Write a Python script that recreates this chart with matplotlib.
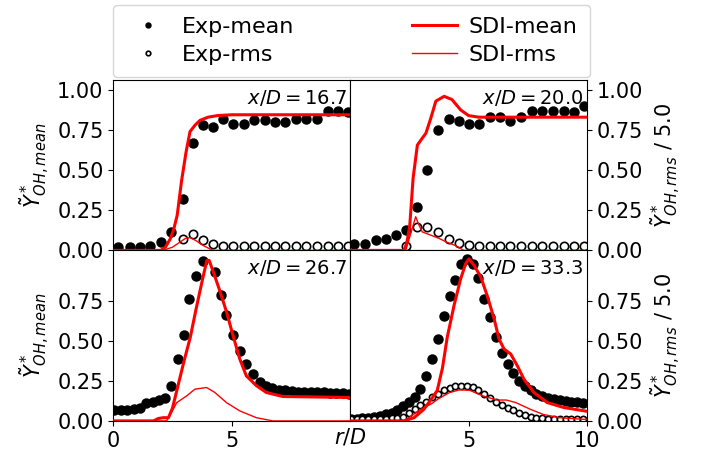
import matplotlib
matplotlib.use("Agg")
import matplotlib.pyplot as plt

# measured OH profiles, x/D = 16.7
r_exp_167 = [0.22, 0.70, 1.13, 1.57, 2.00, 2.42, 2.95, 3.37, 3.80, 4.22, 4.64, 5.06,
             5.50, 5.93, 6.39, 6.81, 7.27, 7.72, 8.14, 8.59, 9.05, 9.47, 9.90]
mean_exp_167 = [0.02, 0.02, 0.02, 0.03, 0.05, 0.115, 0.32, 0.667, 0.78, 0.77, 0.817, 0.79,
                0.79, 0.81, 0.81, 0.80, 0.80, 0.82, 0.82, 0.82, 0.87, 0.87, 0.86]
r_rms_167 = r_exp_167[6:]
rms_exp_167 = [0.073, 0.104, 0.0625, 0.042, 0.03, 0.03, 0.03, 0.03, 0.03, 0.03, 0.03,
               0.03, 0.03, 0.03, 0.03, 0.03, 0.03]

# x/D = 20.0
r_exp_200 = [0.17, 0.62, 1.08, 1.50, 1.93, 2.35, 2.84, 3.26, 3.71, 4.17, 4.59, 5.01,
             5.44, 5.89, 6.35, 6.77, 7.22, 7.69, 8.11, 8.56, 9.02, 9.44, 9.86]
mean_exp_200 = [0.04, 0.04, 0.0625, 0.073, 0.094, 0.13, 0.27, 0.50, 0.75, 0.82, 0.806, 0.79,
                0.79, 0.83, 0.83, 0.806, 0.833, 0.87, 0.87, 0.87, 0.87, 0.86, 0.90]
r_rms_200 = r_exp_200[5:]
rms_exp_200 = [0.03, 0.146, 0.146, 0.115, 0.073, 0.045, 0.035, 0.03, 0.03, 0.03, 0.03,
               0.03, 0.03, 0.03, 0.03, 0.03, 0.03, 0.03]

# x/D = 26.7 (no rms data)
r_exp_267 = [0.05, 0.32, 0.59, 0.86, 1.13, 1.40, 1.67, 1.94, 2.18, 2.44, 2.72, 3.00,
             3.21, 3.49, 3.77, 4.29, 4.54, 4.78, 5.06, 5.36, 5.62, 5.90, 6.18, 6.45,
             6.72, 6.99, 7.26, 7.53, 7.80, 8.07, 8.34, 8.61, 8.88, 9.15, 9.42, 9.69, 9.96]
mean_exp_267 = [0.07, 0.07, 0.07, 0.075, 0.08, 0.11, 0.115, 0.13, 0.145, 0.22, 0.386, 0.535,
                0.76, 0.90, 0.996, 0.927, 0.786, 0.66, 0.535, 0.4375, 0.354, 0.29, 0.24, 0.22,
                0.205, 0.195, 0.19, 0.185, 0.18, 0.178, 0.178, 0.177, 0.177, 0.176, 0.175,
                0.173, 0.17]

# x/D = 33.3
r_exp_333 = [0.03, 0.28, 0.52, 0.77, 1.01, 1.26, 1.50, 1.75, 1.99, 2.24, 2.48, 2.73,
             2.97, 3.22, 3.46, 3.71, 3.95, 4.20, 4.44, 4.69, 4.93, 5.18, 5.42, 5.67,
             5.91, 6.16, 6.40, 6.65, 6.89, 7.14, 7.38, 7.63, 7.87, 8.12, 8.36, 8.61,
             8.85, 9.10, 9.34, 9.59, 9.83]
mean_exp_333 = [0.01, 0.012, 0.015, 0.02, 0.025, 0.03, 0.04, 0.05, 0.065, 0.09, 0.115, 0.146,
                0.198, 0.28, 0.386, 0.51, 0.656, 0.78, 0.88, 0.98, 1.01, 0.98, 0.89, 0.76,
                0.65, 0.52, 0.42, 0.354, 0.30, 0.25, 0.215, 0.19, 0.17, 0.155, 0.145, 0.138,
                0.13, 0.125, 0.12, 0.117, 0.114]
rms_exp_333 = [0.01, 0.01, 0.01, 0.01, 0.012, 0.012, 0.014, 0.016, 0.02, 0.025, 0.052, 0.073,
               0.10, 0.12, 0.146, 0.17, 0.19, 0.205, 0.215, 0.22, 0.218, 0.21, 0.19, 0.165,
               0.14, 0.12, 0.10, 0.08, 0.065, 0.05, 0.037, 0.027, 0.02, 0.015, 0.012, 0.01,
               0.01, 0.01, 0.01, 0.01, 0.01]

# SDI model profiles
r_sdi_mean_167 = [0, 2.0, 2.2, 2.4, 2.55, 2.7, 2.88, 3.07, 3.24, 3.45, 3.66, 4.0, 4.4, 5.0, 10]
sdi_mean_167 = [0, 0, 0.02, 0.07, 0.13, 0.22, 0.43, 0.61, 0.74, 0.78, 0.81, 0.83, 0.84, 0.845, 0.845]
r_sdi_rms_167 = [0, 2.1, 2.5, 2.8, 3.05, 3.25, 3.5, 3.8, 4.2, 10]
sdi_rms_167 = [0, 0, 0.02, 0.05, 0.075, 0.08, 0.06, 0.03, 0, 0]

r_sdi_mean_200 = [0, 2.28, 2.4, 2.52, 2.66, 2.84, 3.05, 3.2, 3.4, 3.62, 3.97, 4.3, 4.67, 5.0,
                  5.43, 6.0, 10]
sdi_mean_200 = [0, 0, 0.05, 0.156, 0.45, 0.656, 0.70, 0.73, 0.82, 0.93, 0.96, 0.94, 0.875, 0.84,
                0.83, 0.83, 0.83]
r_sdi_rms_200 = [0, 2.35, 2.55, 2.77, 2.9, 3.05, 3.4, 3.75, 4.1, 4.45, 4.8, 10]
sdi_rms_200 = [0, 0, 0.1, 0.21, 0.16, 0.115, 0.095, 0.075, 0.05, 0.03, 0, 0]

r_sdi_mean_267 = [0, 1.7, 1.9, 2.1, 2.33, 2.5, 2.7, 3.0, 3.25, 3.5, 3.75, 3.95, 4.05, 4.22,
                  4.5, 4.78, 5.06, 5.34, 5.62, 6.04, 6.46, 7.16, 10]
sdi_mean_267 = [0, 0, 0.015, 0.02, 0.02, 0.08, 0.2, 0.38, 0.52, 0.7, 0.87, 1.0, 1.0, 0.93,
                0.81, 0.68, 0.53, 0.386, 0.28, 0.22, 0.177, 0.152, 0.146]
r_sdi_rms_267 = [0, 2.25, 2.45, 2.68, 3.1, 3.45, 3.94, 4.29, 4.78, 5.34, 6.04, 6.74, 10]
sdi_rms_267 = [0, 0, 0.05, 0.114, 0.156, 0.198, 0.208, 0.177, 0.114, 0.0625, 0.02, 0, 0]

r_sdi_mean_333 = [0, 2.28, 2.7, 3.1, 3.5, 3.68, 3.9, 4.1, 4.39, 4.67, 4.88, 5.02, 5.23, 5.51,
                  5.79, 6.08, 6.29, 6.5, 6.78, 7.06, 7.34, 7.76, 8.33, 9.03, 10]
sdi_mean_333 = [0, 0, 0.02, 0.07, 0.15, 0.19, 0.33, 0.52, 0.72, 0.886, 0.98, 1.01, 0.97, 0.90,
                0.78, 0.636, 0.51, 0.448, 0.417, 0.344, 0.26, 0.177, 0.114, 0.083, 0.06]
r_sdi_rms_333 = [0, 2.28, 3.0, 3.47, 3.7, 4.2, 4.64, 5.06, 5.6, 6.2, 6.6, 7.0, 7.6, 8.16, 8.85,
                 9.85, 10]
sdi_rms_333 = [0, 0, 0.073, 0.11, 0.135, 0.177, 0.194, 0.19, 0.156, 0.13, 0.13, 0.114, 0.073,
               0.04, 0.02, 0.01, 0.01]

stations = ["16.7", "20.0", "26.7", "33.3"]

panels = [
    (r_exp_167, mean_exp_167, r_rms_167, rms_exp_167,
     r_sdi_mean_167, sdi_mean_167, r_sdi_rms_167, sdi_rms_167),
    (r_exp_200, mean_exp_200, r_rms_200, rms_exp_200,
     r_sdi_mean_200, sdi_mean_200, r_sdi_rms_200, sdi_rms_200),
    (r_exp_267, mean_exp_267, None, None,
     r_sdi_mean_267, sdi_mean_267, r_sdi_rms_267, sdi_rms_267),
    (r_exp_333, mean_exp_333, r_exp_333, rms_exp_333,
     r_sdi_mean_333, sdi_mean_333, r_sdi_rms_333, sdi_rms_333),
]

fs = 15
fig, axes = plt.subplots(2, 2, figsize=(7.08, 4.59), dpi=100)
fig.subplots_adjust(left=0.16, right=0.829, bottom=0.083, top=0.826, wspace=0, hspace=0)

for i, ax in enumerate(axes.flat):
    r_e, m_e, r_r, s_r, r_sm, sm, r_sr, sr = panels[i]
    row, col = divmod(i, 2)
    open_ms = 4.5 if i == 3 else 6
    h1, = ax.plot(r_e, m_e, "o", color="black", ms=6.5, zorder=2, label="Exp-mean")
    if r_r is not None:
        h2, = ax.plot(r_r, s_r, "o", mfc="white", mec="black", mew=1.2, ms=open_ms,
                      zorder=2.5, label="Exp-rms")
    h3, = ax.plot(r_sm, sm, "-", color="red", lw=2.2, zorder=3, label="SDI-mean")
    h4, = ax.plot(r_sr, sr, "-", color="red", lw=1.0, zorder=3, label="SDI-rms")
    if i == 0:
        handles = [h1, h2, h3, h4]

    ax.set_xlim(0, 10)
    ax.set_ylim(0, 1.0625)
    ax.text(0.985, 0.955, r"$x/D = %s$" % stations[i], transform=ax.transAxes,
            ha="right", va="top", fontsize=14)

    if row == 0:
        ax.set_yticks([0, 0.25, 0.5, 0.75, 1.0])
        ax.set_xticks([])
    else:
        ax.set_yticks([0, 0.25, 0.5, 0.75])
        ax.set_xticks([0, 5] if col == 0 else [5, 10])
    ax.tick_params(labelsize=fs)

    if col == 0:
        ax.set_ylabel(r"$\tilde{Y}^*_{OH,mean}$", fontsize=fs)
    else:
        ax.yaxis.tick_right()
        ax.yaxis.set_label_position("right")
        ax.set_ylabel(r"$\tilde{Y}^*_{OH,rms}$ / 5.0", fontsize=fs)

fig.text(0.495, 0.048, r"$r/D$", ha="center", va="center", fontsize=fs)

fig.legend(handles=handles, loc="lower left", bbox_to_anchor=(0.16, 0.832),
           ncol=2, fontsize=16, markerscale=0.55, borderaxespad=0,
           labelspacing=0.35, borderpad=0.55, columnspacing=5.3, handletextpad=0.55)

fig.savefig("out.png", dpi=100)
